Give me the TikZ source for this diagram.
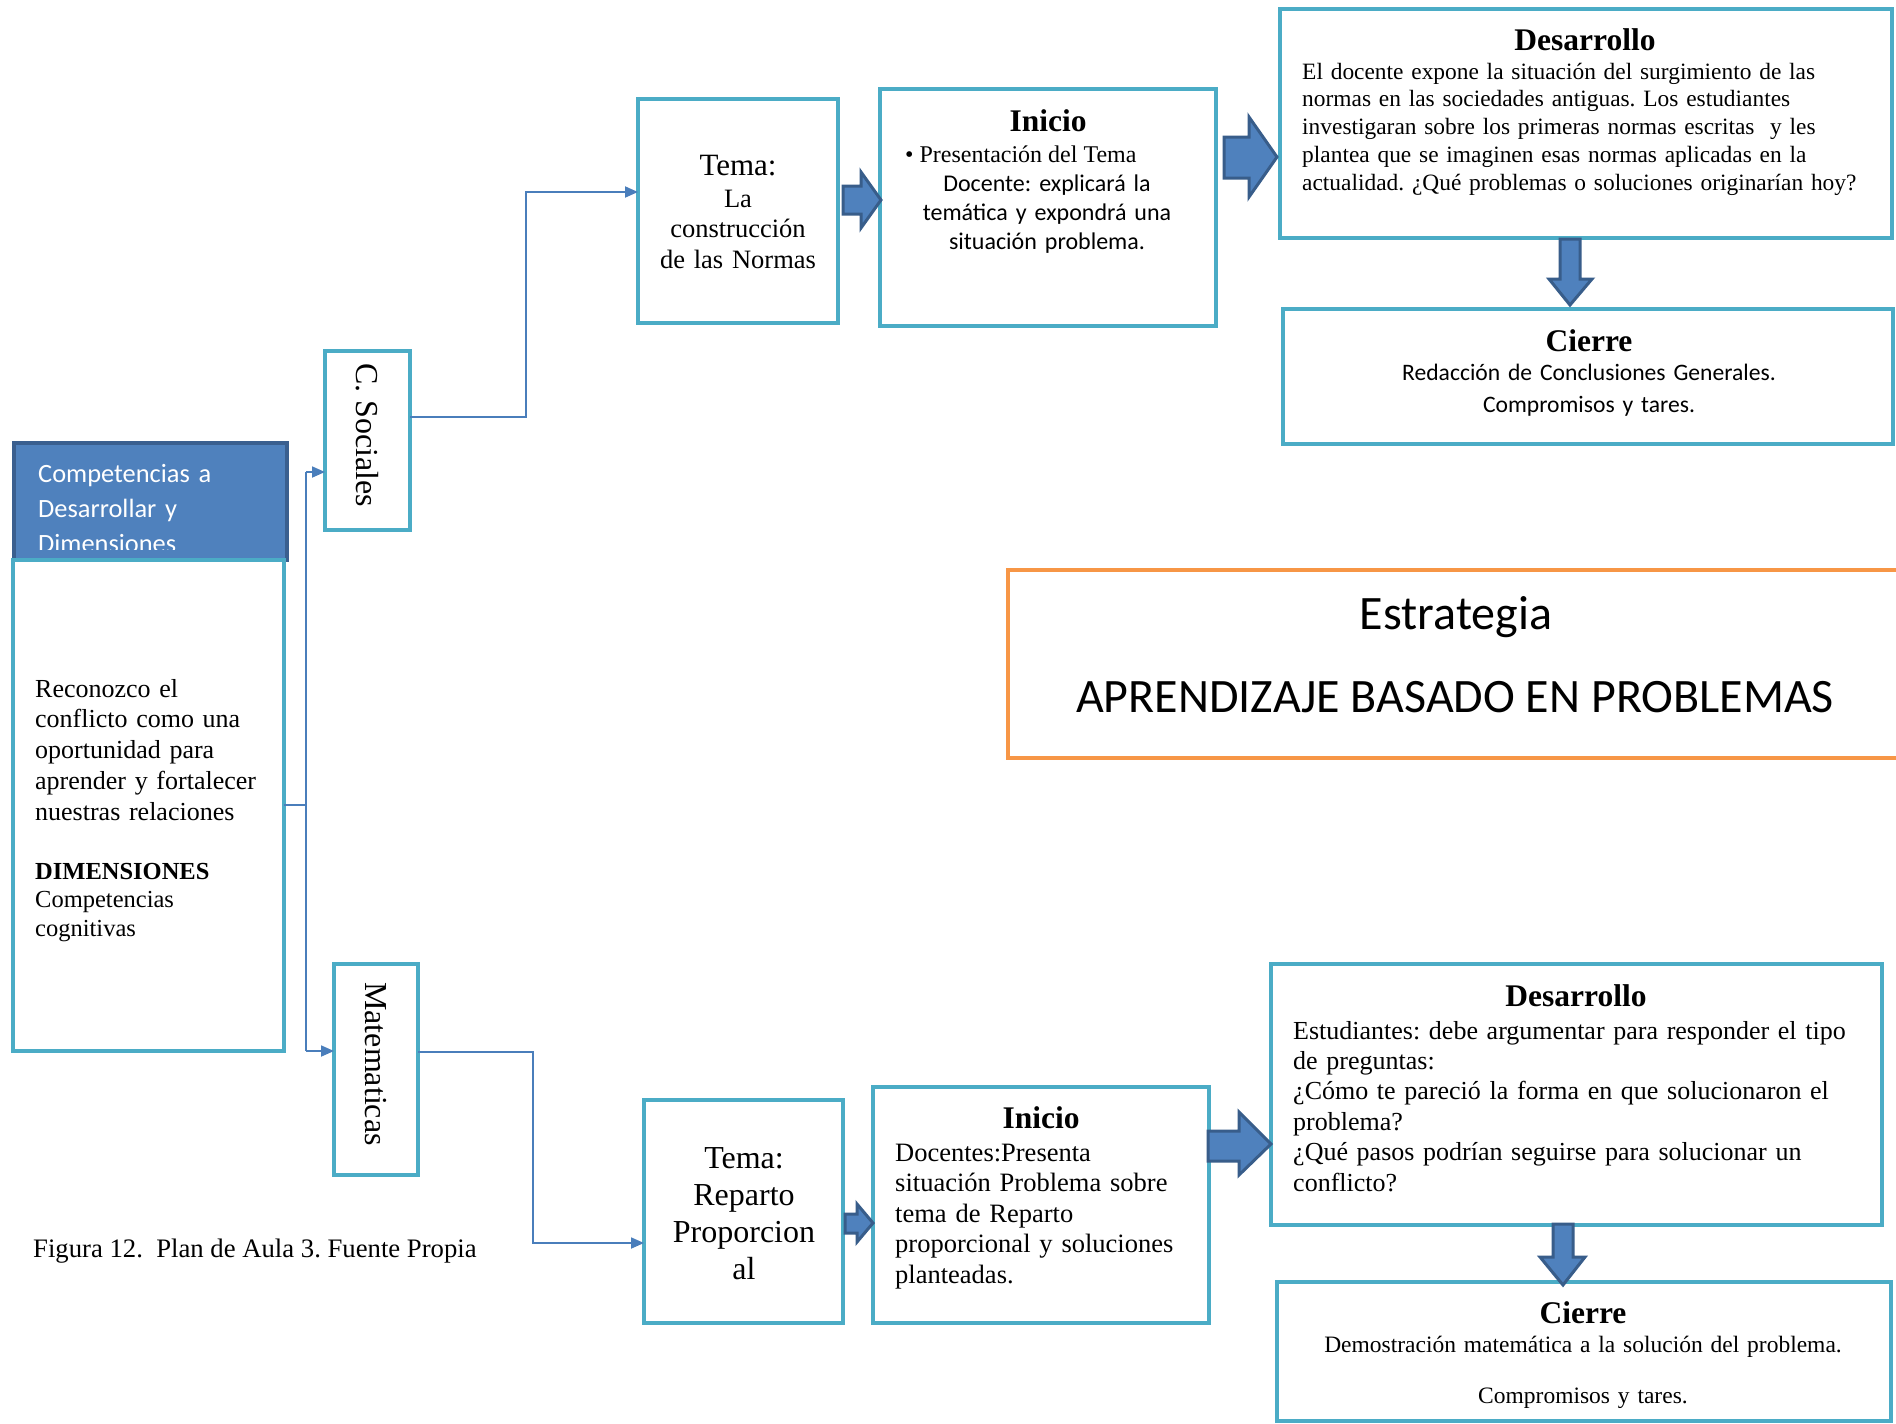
\documentclass[tikz,border=0pt]{standalone}
\usepackage{fontspec}
\setmainfont{Liberation Serif}
\newfontfamily\calibri{Carlito}
\usetikzlibrary{arrows.meta,calc}
\definecolor{boxc}{HTML}{4BACC6}
\definecolor{arrf}{HTML}{4F81BD}
\definecolor{arrd}{HTML}{385D8A}
\definecolor{orng}{HTML}{F79646}
\definecolor{linec}{HTML}{4A7EBB}
\definecolor{hdrd}{HTML}{3A5F8F}
\frenchspacing
\tikzset{
  box/.style={draw=boxc, line width=4.5pt, fill=white, inner sep=0pt, outer sep=0pt, anchor=north west},
  conn/.style={draw=linec, line width=1.8pt},
  tip/.style={-{Triangle[length=13pt,width=11pt]}},
  barrow/.style={fill=arrf, draw=arrd, line width=3pt, line join=miter},
  ttl/.style={font=\fontsize{31.5}{36}\selectfont\bfseries, inner sep=0pt, anchor=base},
  txt/.style={inner sep=0pt, anchor=base west, align=left},
  ctxt/.style={inner sep=0pt, anchor=base, align=center},
}
\begin{document}
\begin{tikzpicture}[x=1pt,y=-1pt]
\useasboundingbox[fill=white] (0,0) rectangle (1896,1424);

% header box with clipped text
\node[draw=hdrd, fill=arrf, line width=4pt, inner sep=0pt, outer sep=0pt, anchor=north west,
      minimum width=273pt, minimum height=117pt] (hdr) at (14,443) {};
\begin{scope}
  \clip (16,445) rectangle (285,549);
  \node[txt, text width=250pt, text=white, font=\calibri\fontsize{26.4}{35}\selectfont] (hdrtxt) at (38,482)
    {Competencias a\\Desarrollar y\\Dimensiones};
\end{scope}

% left box
\node[box, minimum width=271pt, minimum height=491pt] (left) at (13,560) {};
\node[txt, text width=250pt, font=\fontsize{26}{30.8}\selectfont] (lft1) at (35,697)
  {Reconozco el\\conflicto como una\\oportunidad para\\aprender y fortalecer\\nuestras relaciones};
\node[txt, text width=250pt, font=\fontsize{24.5}{28.6}\selectfont] (lft2) at (35,879)
  {\textbf{DIMENSIONES}\\Competencias\\cognitivas};

% subject boxes
\node[box, minimum width=85pt, minimum height=179pt] (soc) at (325,351) {};
\node[inner sep=0pt, rotate=-90, font=\fontsize{32}{36}\selectfont] (soctxt) at (367,435) {C. Sociales};
\node[box, minimum width=84pt, minimum height=211pt] (mat) at (334,964) {};
\node[inner sep=0pt, rotate=-90, font=\fontsize{32}{36}\selectfont] (mattxt) at (376,1064) {Matematicas};

% top row
\node[box, minimum width=200pt, minimum height=224pt] (tema1) at (638,99) {};
\node[ctxt, font=\fontsize{31}{36}\selectfont] (tema1a) at (738,175) {Tema:};
\node[ctxt, text width=190pt, font=\fontsize{26.5}{30.5}\selectfont] (tema1b) at (738,207)
  {La\\construcción\\de las Normas};

\node[box, minimum width=336pt, minimum height=237pt] (ini1) at (880,89) {};
\node[ttl] (ini1t) at (1048,131) {Inicio};
\node[txt, font=\fontsize{24}{28}\selectfont] (ini1b) at (905,162) {\textbullet\hspace{6pt}Presentación del Tema};
\node[ctxt, text width=320pt, font=\calibri\fontsize{24}{29}\selectfont] (ini1c) at (1047,191)
  {Docente: explicará la\\temática y expondrá una\\situación problema.};

\node[box, minimum width=612pt, minimum height=229pt] (des1) at (1280,9) {};
\node[ttl] (des1t) at (1585,50) {Desarrollo};
\node[txt, text width=600pt, font=\fontsize{23.4}{27.8}\selectfont] (des1b) at (1302,79)
  {El docente expone la situación del surgimiento de las\\normas en las sociedades antiguas. Los estudiantes\\investigaran sobre los primeras normas escritas\ \ y les\\plantea que se imaginen esas normas aplicadas en la\\actualidad. ¿Qué problemas o soluciones originarían hoy?};

\node[box, minimum width=610pt, minimum height=135pt] (cie1) at (1283,309) {};
\node[ttl] (cie1t) at (1589,351) {Cierre};
\node[ctxt, text width=600pt, font=\calibri\fontsize{23.6}{32}\selectfont] (cie1b) at (1589,380)
  {Redacción de Conclusiones Generales.\\Compromisos y tares.};

% strategy box
\node[draw=orng, line width=4pt, inner sep=0pt, outer sep=0pt, anchor=north west,
      minimum width=897pt, minimum height=188pt] (estr) at (1008,570) {};
\node[ctxt, font=\calibri\fontsize{48}{56}\selectfont] (estr1) at (1456,629) {Estrategia};
\node[ctxt, font=\calibri\fontsize{48}{56}\selectfont] (estr2) at (1455,712) {APRENDIZAJE BASADO EN PROBLEMAS};

% bottom row
\node[box, minimum width=199pt, minimum height=223pt] (tema2) at (644,1100) {};
\node[ctxt, text width=190pt, font=\fontsize{32}{37}\selectfont] (tema2t) at (744,1168)
  {Tema:\\Reparto\\Proporcion\\al};

\node[box, minimum width=336pt, minimum height=236pt] (ini2) at (873,1087) {};
\node[ttl] (ini2t) at (1041,1128) {Inicio};
\node[txt, text width=310pt, font=\fontsize{26.5}{30.5}\selectfont] (ini2b) at (895,1161)
  {Docentes:Presenta\\situación Problema sobre\\tema de Reparto\\proporcional y soluciones\\planteadas.};

\node[box, minimum width=611pt, minimum height=261pt] (des2) at (1271,964) {};
\node[ttl] (des2t) at (1576,1006) {Desarrollo};
\node[txt, text width=590pt, font=\fontsize{26}{30.4}\selectfont] (des2b) at (1293,1039)
  {Estudiantes: debe argumentar para responder el tipo\\de preguntas:\\¿Cómo te pareció la forma en que solucionaron el\\problema?\\¿Qué pasos podrían seguirse para solucionar un\\conflicto?};

\node[box, minimum width=614pt, minimum height=139pt] (cie2) at (1277,1282) {};
\node[ttl] (cie2t) at (1583,1323) {Cierre};
\node[ctxt, text width=600pt, font=\fontsize{23.5}{51}\selectfont] (cie2b) at (1583,1352)
  {Demostración matemática a la solución del problema.\\Compromisos y tares.};

% caption
\node[txt, font=\fontsize{26.7}{30}\selectfont] (cap) at (33,1257) {Figura 12.\ \ Plan de Aula 3. Fuente Propia};

% thin connectors
\coordinate (j0) at (306,805);
\coordinate (j1) at (306,472);
\coordinate (j2) at (306,1051);
\draw[conn] (left.east |- j0) -- (j0);
\draw[conn] (j1) -- (j2);
\draw[conn,tip] (j1) -- (j1 -| soc.west);
\draw[conn,tip] (j2) -- (j2 -| mat.west);
\coordinate (s1) at (526,417);
\coordinate (s2) at (526,192);
\draw[conn,tip] (soc.east |- s1) -- (s1) -- (s2) -- (s2 -| tema1.west);
\coordinate (m1) at (533,1052);
\coordinate (m2) at (533,1243);
\draw[conn,tip] (mat.east |- m1) -- (m1) -- (m2) -- (m2 -| tema2.west);

% block arrows
\draw[barrow] (843,186) -- (861,186) -- (861,172) -- (881,200) -- (861,228) -- (861,214) -- (843,214) -- cycle;
\draw[barrow] (1224,137) -- (1249,137) -- (1249,117) -- (1277,157) -- (1249,197) -- (1249,178) -- (1224,178) -- cycle;
\draw[barrow] (1560,239) -- (1580,239) -- (1580,279) -- (1592,279) -- (1570,305) -- (1549,279) -- (1560,279) -- cycle;
\draw[barrow] (845,1214) -- (857,1214) -- (857,1204) -- (873,1223) -- (857,1242) -- (857,1233) -- (845,1233) -- cycle;
\draw[barrow] (1208,1131) -- (1239,1131) -- (1239,1112) -- (1271,1144) -- (1239,1175) -- (1239,1161) -- (1208,1161) -- cycle;
\draw[barrow] (1553,1224) -- (1573,1224) -- (1573,1257) -- (1585,1257) -- (1563,1285) -- (1540,1257) -- (1553,1257) -- cycle;
\end{tikzpicture}
\end{document}
